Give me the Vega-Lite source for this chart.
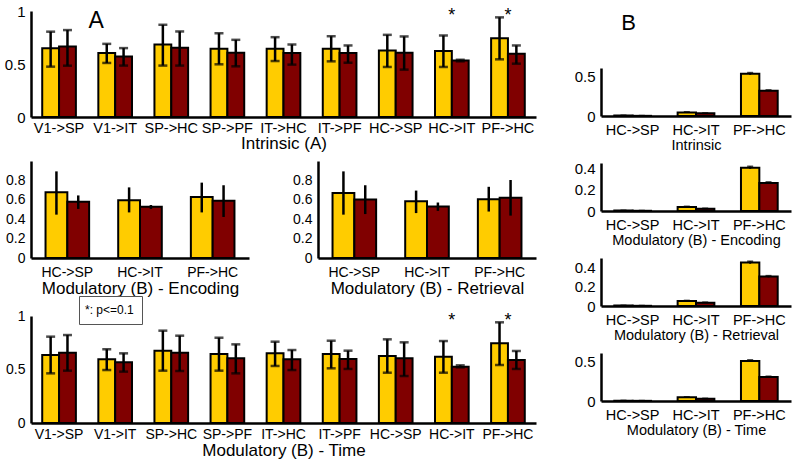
{
  "$schema": "https://vega.github.io/schema/vega-lite/v6.json",
  "background": "white",
  "padding": 4,
  "datasets": {
    "intrinsic": [
      {"c":"V1->SP","g":"1","v":0.648,"lo":0.475,"hi":0.805},{"c":"V1->SP","g":"2","v":0.664,"lo":0.484,"hi":0.82},
      {"c":"V1->IT","g":"1","v":0.603,"lo":0.51,"hi":0.69},{"c":"V1->IT","g":"2","v":0.57,"lo":0.485,"hi":0.65},
      {"c":"SP->HC","g":"1","v":0.684,"lo":0.485,"hi":0.87},{"c":"SP->HC","g":"2","v":0.653,"lo":0.485,"hi":0.807},
      {"c":"SP->PF","g":"1","v":0.644,"lo":0.497,"hi":0.79},{"c":"SP->PF","g":"2","v":0.606,"lo":0.478,"hi":0.728},
      {"c":"IT->HC","g":"1","v":0.644,"lo":0.528,"hi":0.753},{"c":"IT->HC","g":"2","v":0.603,"lo":0.494,"hi":0.684},
      {"c":"IT->PF","g":"1","v":0.644,"lo":0.525,"hi":0.762},{"c":"IT->PF","g":"2","v":0.603,"lo":0.512,"hi":0.675},
      {"c":"HC->SP","g":"1","v":0.628,"lo":0.472,"hi":0.775},{"c":"HC->SP","g":"2","v":0.606,"lo":0.447,"hi":0.76},
      {"c":"HC->IT","g":"1","v":0.622,"lo":0.472,"hi":0.769},{"c":"HC->IT","g":"2","v":0.534,"lo":0.525,"hi":0.54},
      {"c":"PF->HC","g":"1","v":0.743,"lo":0.544,"hi":0.94},{"c":"PF->HC","g":"2","v":0.597,"lo":0.503,"hi":0.675}
    ],
    "encoding": [
      {"c":"HC->SP","g":"1","v":0.678,"lo":0.447,"hi":0.893},{"c":"HC->SP","g":"2","v":0.579,"lo":0.506,"hi":0.645},
      {"c":"HC->IT","g":"1","v":0.596,"lo":0.47,"hi":0.728},{"c":"HC->IT","g":"2","v":0.529,"lo":0.506,"hi":0.546},
      {"c":"PF->HC","g":"1","v":0.628,"lo":0.47,"hi":0.777},{"c":"PF->HC","g":"2","v":0.589,"lo":0.423,"hi":0.75}
    ],
    "retrieval": [
      {"c":"HC->SP","g":"1","v":0.671,"lo":0.447,"hi":0.893},{"c":"HC->SP","g":"2","v":0.602,"lo":0.453,"hi":0.75},
      {"c":"HC->IT","g":"1","v":0.585,"lo":0.463,"hi":0.695},{"c":"HC->IT","g":"2","v":0.532,"lo":0.486,"hi":0.572},
      {"c":"PF->HC","g":"1","v":0.605,"lo":0.479,"hi":0.734},{"c":"PF->HC","g":"2","v":0.622,"lo":0.437,"hi":0.804}
    ],
    "time": [
      {"c":"V1->SP","g":"1","v":0.636,"lo":0.464,"hi":0.807},{"c":"V1->SP","g":"2","v":0.657,"lo":0.489,"hi":0.822},
      {"c":"V1->IT","g":"1","v":0.595,"lo":0.495,"hi":0.689},{"c":"V1->IT","g":"2","v":0.567,"lo":0.48,"hi":0.651},
      {"c":"SP->HC","g":"1","v":0.676,"lo":0.489,"hi":0.863},{"c":"SP->HC","g":"2","v":0.657,"lo":0.486,"hi":0.816},
      {"c":"SP->PF","g":"1","v":0.645,"lo":0.489,"hi":0.797},{"c":"SP->PF","g":"2","v":0.604,"lo":0.464,"hi":0.735},
      {"c":"IT->HC","g":"1","v":0.651,"lo":0.533,"hi":0.76},{"c":"IT->HC","g":"2","v":0.595,"lo":0.495,"hi":0.682},
      {"c":"IT->PF","g":"1","v":0.645,"lo":0.511,"hi":0.769},{"c":"IT->PF","g":"2","v":0.598,"lo":0.505,"hi":0.676},
      {"c":"HC->SP","g":"1","v":0.626,"lo":0.47,"hi":0.782},{"c":"HC->SP","g":"2","v":0.604,"lo":0.439,"hi":0.754},
      {"c":"HC->IT","g":"1","v":0.62,"lo":0.47,"hi":0.766},{"c":"HC->IT","g":"2","v":0.526,"lo":0.52,"hi":0.539},
      {"c":"PF->HC","g":"1","v":0.745,"lo":0.542,"hi":0.941},{"c":"PF->HC","g":"2","v":0.589,"lo":0.505,"hi":0.673}
    ],
    "b_intrinsic": [
      {"c":"HC->SP","g":"1","v":0.005,"lo":0.003,"hi":0.007},{"c":"HC->SP","g":"2","v":0.002,"lo":0.001,"hi":0.003},
      {"c":"HC->IT","g":"1","v":0.045,"lo":0.04,"hi":0.05},{"c":"HC->IT","g":"2","v":0.033,"lo":0.03,"hi":0.036},
      {"c":"PF->HC","g":"1","v":0.528,"lo":0.515,"hi":0.54},{"c":"PF->HC","g":"2","v":0.317,"lo":0.31,"hi":0.324}
    ],
    "b_encoding": [
      {"c":"HC->SP","g":"1","v":0.004,"lo":0.003,"hi":0.005},{"c":"HC->SP","g":"2","v":0.002,"lo":0.001,"hi":0.003},
      {"c":"HC->IT","g":"1","v":0.038,"lo":0.034,"hi":0.042},{"c":"HC->IT","g":"2","v":0.022,"lo":0.02,"hi":0.024},
      {"c":"PF->HC","g":"1","v":0.406,"lo":0.395,"hi":0.417},{"c":"PF->HC","g":"2","v":0.263,"lo":0.255,"hi":0.271}
    ],
    "b_retrieval": [
      {"c":"HC->SP","g":"1","v":0.004,"lo":0.003,"hi":0.005},{"c":"HC->SP","g":"2","v":0.002,"lo":0.001,"hi":0.003},
      {"c":"HC->IT","g":"1","v":0.052,"lo":0.048,"hi":0.056},{"c":"HC->IT","g":"2","v":0.035,"lo":0.032,"hi":0.038},
      {"c":"PF->HC","g":"1","v":0.452,"lo":0.44,"hi":0.464},{"c":"PF->HC","g":"2","v":0.306,"lo":0.298,"hi":0.314}
    ],
    "b_time": [
      {"c":"HC->SP","g":"1","v":0.004,"lo":0.003,"hi":0.005},{"c":"HC->SP","g":"2","v":0.002,"lo":0.001,"hi":0.003},
      {"c":"HC->IT","g":"1","v":0.046,"lo":0.042,"hi":0.05},{"c":"HC->IT","g":"2","v":0.028,"lo":0.025,"hi":0.031},
      {"c":"PF->HC","g":"1","v":0.5,"lo":0.488,"hi":0.512},{"c":"PF->HC","g":"2","v":0.3,"lo":0.293,"hi":0.307}
    ],
    "stars": [
      {"p":"A1","c":"HC->IT","v":0.95,"t":"*","note":"*: p<=0.1"},{"p":"A1","c":"PF->HC","v":0.95,"t":"*","note":"*: p<=0.1"},
      {"p":"A4","c":"HC->IT","v":0.95,"t":"*","note":"*: p<=0.1"},{"p":"A4","c":"PF->HC","v":0.95,"t":"*","note":"*: p<=0.1"}
    ],
    "labels": [
      {"p":"A","c":"V1->IT","v":0.91,"t":"A"},
      {"p":"B","c":"HC->SP","t":"B"}
    ]
  },
  "config": {
    "font": "Liberation Sans",
    "view": {"stroke": null},
    "axis": {"domainColor": "black", "domainWidth": 2.5, "ticks": false, "grid": false, "labelColor": "black", "titleColor": "black", "titleFontWeight": "normal", "labelFontSize": 14, "titleFontSize": 17, "labelFont": "Liberation Sans", "titleFont": "Liberation Sans", "labelOverlap": false},
    "axisX": {"labelAngle": 0, "labelPadding": 6, "titlePadding": 0},
    "axisY": {"labelPadding": 6, "format": "~g", "labelOverlap": false},
    "text": {"color": "black"}
  },
  "bounds": "flush",
  "spacing": 570,
  "resolve": {"scale": {"x": "independent", "y": "independent", "xOffset": "independent"}},
  "hconcat": [
    {
      "bounds": "flush",
      "spacing": 305,
      "resolve": {"scale": {"x": "independent", "y": "independent", "xOffset": "independent"}},
      "vconcat": [
        {
          "bounds": "flush",
          "spacing": 44,
          "resolve": {"scale": {"x": "independent", "y": "independent", "xOffset": "independent"}},
          "vconcat": [
            {
              "width": 505, "height": 106,
              "encoding": {
                "x": {"field": "c", "type": "nominal", "sort": ["V1->SP","V1->IT","SP->HC","SP->PF","IT->HC","IT->PF","HC->SP","HC->IT","PF->HC"], "scale": {"paddingInner": 0.4, "paddingOuter": 0.2}, "axis": {"title": "Intrinsic (A)", "labelFontSize": 14.5, "titleFontSize": 17, "labelPadding": 4, "titlePadding": 1}}
              },
              "layer": [
                {"data": {"name": "intrinsic"}, "mark": {"type": "bar", "stroke": "black", "strokeWidth": 2},
                 "encoding": {"xOffset": {"field": "g", "type": "nominal", "sort": ["1","2"]},
                   "y": {"field": "v", "type": "quantitative", "title": null, "scale": {"domain": [0, 1]}, "axis": {"values": [0, 0.5, 1], "labelFontSize": 15, "labelOverlap": false}},
                   "fill": {"field": "g", "type": "nominal", "scale": {"domain": ["1","2"], "range": ["#FFCC00", "#800000"]}, "legend": null}}},
                {"data": {"name": "intrinsic"}, "mark": {"type": "rule", "strokeWidth": 2.5, "color": "black"},
                 "encoding": {"xOffset": {"field": "g", "type": "nominal", "sort": ["1","2"]}, "y": {"field": "lo", "type": "quantitative", "title": null, "axis": {"values": [0, 0.5, 1], "labelFontSize": 15, "labelOverlap": false}}, "y2": {"field": "hi"}}},
                {"data": {"name": "intrinsic"}, "mark": {"type": "tick", "orient": "horizontal", "thickness": 2.5, "size": 9, "color": "black"},
                 "encoding": {"xOffset": {"field": "g", "type": "nominal", "sort": ["1","2"]}, "y": {"field": "lo", "type": "quantitative", "title": null, "axis": {"values": [0, 0.5, 1], "labelFontSize": 15, "labelOverlap": false}}}},
                {"data": {"name": "intrinsic"}, "mark": {"type": "tick", "orient": "horizontal", "thickness": 2.5, "size": 9, "color": "black"},
                 "encoding": {"xOffset": {"field": "g", "type": "nominal", "sort": ["1","2"]}, "y": {"field": "hi", "type": "quantitative", "title": null, "axis": {"values": [0, 0.5, 1], "labelFontSize": 15, "labelOverlap": false}}}},
                {"data": {"name": "stars"}, "transform": [{"filter": "datum.p == 'A1'"}], "mark": {"type": "text", "fontSize": 18},
                 "encoding": {"y": {"field": "v", "type": "quantitative", "title": null, "axis": {"values": [0, 0.5, 1], "labelFontSize": 15, "labelOverlap": false}}, "text": {"field": "t"}}},
                {"data": {"name": "labels"}, "transform": [{"filter": "datum.p == 'A'"}], "mark": {"type": "text", "fontSize": 23, "dx": -19},
                 "encoding": {"y": {"field": "v", "type": "quantitative", "title": null, "axis": {"values": [0, 0.5, 1], "labelFontSize": 15, "labelOverlap": false}}, "text": {"field": "t"}}}
              ]
            },
            {
              "bounds": "flush",
              "spacing": 69,
              "resolve": {"scale": {"x": "independent", "y": "independent", "xOffset": "independent"}},
              "hconcat": [
                {
                  "width": 218, "height": 97,
                  "data": {"name": "encoding"},
                  "encoding": {
                    "x": {"field": "c", "type": "nominal", "sort": ["HC->SP","HC->IT","PF->HC"], "scale": {"paddingInner": 0.4, "paddingOuter": 0.2}, "axis": {"title": "Modulatory (B) - Encoding", "labelPadding": 7, "titlePadding": 1}},
                    "xOffset": {"field": "g", "type": "nominal", "sort": ["1","2"]}
                  },
                  "layer": [
                    {"mark": {"type": "bar", "stroke": "black", "strokeWidth": 2},
                     "encoding": {"y": {"field": "v", "type": "quantitative", "title": null, "scale": {"domain": [0, 0.965]}, "axis": {"values": [0, 0.2, 0.4, 0.6, 0.8], "labelOverlap": false}},
                       "fill": {"field": "g", "type": "nominal", "scale": {"domain": ["1","2"], "range": ["#FFCC00", "#800000"]}, "legend": null}}},
                    {"mark": {"type": "rule", "strokeWidth": 2.5, "color": "black"},
                     "encoding": {"y": {"field": "lo", "type": "quantitative", "title": null, "axis": {"values": [0, 0.2, 0.4, 0.6, 0.8], "labelOverlap": false}}, "y2": {"field": "hi"}}}
                  ]
                },
                {
                  "width": 218, "height": 97,
                  "data": {"name": "retrieval"},
                  "encoding": {
                    "x": {"field": "c", "type": "nominal", "sort": ["HC->SP","HC->IT","PF->HC"], "scale": {"paddingInner": 0.4, "paddingOuter": 0.2}, "axis": {"title": "Modulatory (B) - Retrieval", "labelPadding": 7, "titlePadding": 1}},
                    "xOffset": {"field": "g", "type": "nominal", "sort": ["1","2"]}
                  },
                  "layer": [
                    {"mark": {"type": "bar", "stroke": "black", "strokeWidth": 2},
                     "encoding": {"y": {"field": "v", "type": "quantitative", "title": null, "scale": {"domain": [0, 0.965]}, "axis": {"values": [0, 0.2, 0.4, 0.6, 0.8], "labelOverlap": false}},
                       "fill": {"field": "g", "type": "nominal", "scale": {"domain": ["1","2"], "range": ["#FFCC00", "#800000"]}, "legend": null}}},
                    {"mark": {"type": "rule", "strokeWidth": 2.5, "color": "black"},
                     "encoding": {"y": {"field": "lo", "type": "quantitative", "title": null, "axis": {"values": [0, 0.2, 0.4, 0.6, 0.8], "labelOverlap": false}}, "y2": {"field": "hi"}}}
                  ]
                }
              ]
            }
          ]
        },
        {
          "width": 505, "height": 107,
          "encoding": {
            "x": {"field": "c", "type": "nominal", "sort": ["V1->SP","V1->IT","SP->HC","SP->PF","IT->HC","IT->PF","HC->SP","HC->IT","PF->HC"], "scale": {"paddingInner": 0.4, "paddingOuter": 0.2}, "axis": {"title": "Modulatory (B) - Time", "labelPadding": 4, "titlePadding": 1}}
          },
          "layer": [
            {"data": {"name": "time"}, "mark": {"type": "bar", "stroke": "black", "strokeWidth": 2},
             "encoding": {"xOffset": {"field": "g", "type": "nominal", "sort": ["1","2"]},
               "y": {"field": "v", "type": "quantitative", "title": null, "scale": {"domain": [0, 1]}, "axis": {"values": [0, 0.5, 1], "labelOverlap": false}},
               "fill": {"field": "g", "type": "nominal", "scale": {"domain": ["1","2"], "range": ["#FFCC00", "#800000"]}, "legend": null}}},
            {"data": {"name": "time"}, "mark": {"type": "rule", "strokeWidth": 2.5, "color": "black"},
             "encoding": {"xOffset": {"field": "g", "type": "nominal", "sort": ["1","2"]}, "y": {"field": "lo", "type": "quantitative", "title": null, "axis": {"values": [0, 0.5, 1], "labelOverlap": false}}, "y2": {"field": "hi"}}},
            {"data": {"name": "time"}, "mark": {"type": "tick", "orient": "horizontal", "thickness": 2.5, "size": 9, "color": "black"},
             "encoding": {"xOffset": {"field": "g", "type": "nominal", "sort": ["1","2"]}, "y": {"field": "lo", "type": "quantitative", "title": null, "axis": {"values": [0, 0.5, 1], "labelOverlap": false}}}},
            {"data": {"name": "time"}, "mark": {"type": "tick", "orient": "horizontal", "thickness": 2.5, "size": 9, "color": "black"},
             "encoding": {"xOffset": {"field": "g", "type": "nominal", "sort": ["1","2"]}, "y": {"field": "hi", "type": "quantitative", "title": null, "axis": {"values": [0, 0.5, 1], "labelOverlap": false}}}},
            {"data": {"name": "stars"}, "transform": [{"filter": "datum.p == 'A4'"}], "mark": {"type": "text", "fontSize": 18},
             "encoding": {"y": {"field": "v", "type": "quantitative", "title": null, "axis": {"values": [0, 0.5, 1], "labelOverlap": false}}, "text": {"field": "t"},
               "color": {"field": "note", "type": "nominal", "scale": {"range": ["black"]},
                 "legend": {"orient": "none", "legendX": 48, "legendY": 285, "title": null, "strokeColor": "#555555", "fillColor": "white", "padding": 8, "labelFontSize": 12, "symbolSize": 1, "symbolStrokeWidth": 0, "symbolOpacity": 0, "labelOffset": -14}}}}
          ]
        }
      ]
    },
    {
      "bounds": "flush",
      "spacing": 47,
      "resolve": {"scale": {"x": "independent", "y": "independent", "xOffset": "independent"}},
      "vconcat": [
        {
          "width": 190, "height": 10,
          "data": {"name": "labels"},
          "transform": [{"filter": "datum.p == 'B'"}],
          "mark": {"type": "text", "fontSize": 22, "dy": 7, "dx": -4},
          "encoding": {
            "x": {"field": "c", "type": "nominal", "scale": {"domain": ["HC->SP","HC->IT","PF->HC"], "paddingInner": 0.42, "paddingOuter": 0.21}, "axis": null},
            "text": {"field": "t"}
          }
        },
        {
          "width": 190, "height": 48,
          "data": {"name": "b_intrinsic"},
          "encoding": {
            "x": {"field": "c", "type": "nominal", "sort": ["HC->SP","HC->IT","PF->HC"], "scale": {"paddingInner": 0.42, "paddingOuter": 0.21}, "axis": {"title": "Intrinsic", "labelFontSize": 14.5, "titleFontSize": 14.5, "labelPadding": 7, "titlePadding": 2}},
            "xOffset": {"field": "g", "type": "nominal", "sort": ["1","2"]}
          },
          "layer": [
            {"mark": {"type": "bar", "stroke": "black", "strokeWidth": 2},
             "encoding": {"y": {"field": "v", "type": "quantitative", "title": null, "scale": {"domain": [0, 0.58]}, "axis": {"values": [0, 0.5], "labelFontSize": 15, "labelOverlap": false}},
               "fill": {"field": "g", "type": "nominal", "scale": {"domain": ["1","2"], "range": ["#FFCC00", "#800000"]}, "legend": null}}},
            {"mark": {"type": "rule", "strokeWidth": 2, "color": "black"},
             "encoding": {"y": {"field": "lo", "type": "quantitative", "title": null, "axis": {"values": [0, 0.5], "labelFontSize": 15, "labelOverlap": false}}, "y2": {"field": "hi"}}},
            {"mark": {"type": "tick", "orient": "horizontal", "thickness": 2, "size": 6, "color": "black"},
             "encoding": {"y": {"field": "hi", "type": "quantitative", "title": null, "axis": {"values": [0, 0.5], "labelFontSize": 15, "labelOverlap": false}}}}
          ]
        },
        {
          "width": 190, "height": 48,
          "data": {"name": "b_encoding"},
          "encoding": {
            "x": {"field": "c", "type": "nominal", "sort": ["HC->SP","HC->IT","PF->HC"], "scale": {"paddingInner": 0.42, "paddingOuter": 0.21}, "axis": {"title": "Modulatory (B) - Encoding", "labelFontSize": 14.5, "titleFontSize": 14.5, "labelPadding": 7, "titlePadding": 2}},
            "xOffset": {"field": "g", "type": "nominal", "sort": ["1","2"]}
          },
          "layer": [
            {"mark": {"type": "bar", "stroke": "black", "strokeWidth": 2},
             "encoding": {"y": {"field": "v", "type": "quantitative", "title": null, "scale": {"domain": [0, 0.45]}, "axis": {"values": [0, 0.2, 0.4], "labelFontSize": 15, "labelOverlap": false}},
               "fill": {"field": "g", "type": "nominal", "scale": {"domain": ["1","2"], "range": ["#FFCC00", "#800000"]}, "legend": null}}},
            {"mark": {"type": "rule", "strokeWidth": 2, "color": "black"},
             "encoding": {"y": {"field": "lo", "type": "quantitative", "title": null, "axis": {"values": [0, 0.2, 0.4], "labelFontSize": 15, "labelOverlap": false}}, "y2": {"field": "hi"}}},
            {"mark": {"type": "tick", "orient": "horizontal", "thickness": 2, "size": 6, "color": "black"},
             "encoding": {"y": {"field": "hi", "type": "quantitative", "title": null, "axis": {"values": [0, 0.2, 0.4], "labelFontSize": 15, "labelOverlap": false}}}}
          ]
        },
        {
          "width": 190, "height": 48,
          "data": {"name": "b_retrieval"},
          "encoding": {
            "x": {"field": "c", "type": "nominal", "sort": ["HC->SP","HC->IT","PF->HC"], "scale": {"paddingInner": 0.42, "paddingOuter": 0.21}, "axis": {"title": "Modulatory (B) - Retrieval", "labelFontSize": 14.5, "titleFontSize": 14.5, "labelPadding": 7, "titlePadding": 2}},
            "xOffset": {"field": "g", "type": "nominal", "sort": ["1","2"]}
          },
          "layer": [
            {"mark": {"type": "bar", "stroke": "black", "strokeWidth": 2},
             "encoding": {"y": {"field": "v", "type": "quantitative", "title": null, "scale": {"domain": [0, 0.5]}, "axis": {"values": [0, 0.2, 0.4], "labelFontSize": 15, "labelOverlap": false}},
               "fill": {"field": "g", "type": "nominal", "scale": {"domain": ["1","2"], "range": ["#FFCC00", "#800000"]}, "legend": null}}},
            {"mark": {"type": "rule", "strokeWidth": 2, "color": "black"},
             "encoding": {"y": {"field": "lo", "type": "quantitative", "title": null, "axis": {"values": [0, 0.2, 0.4], "labelFontSize": 15, "labelOverlap": false}}, "y2": {"field": "hi"}}},
            {"mark": {"type": "tick", "orient": "horizontal", "thickness": 2, "size": 6, "color": "black"},
             "encoding": {"y": {"field": "hi", "type": "quantitative", "title": null, "axis": {"values": [0, 0.2, 0.4], "labelFontSize": 15, "labelOverlap": false}}}}
          ]
        },
        {
          "width": 190, "height": 48,
          "data": {"name": "b_time"},
          "encoding": {
            "x": {"field": "c", "type": "nominal", "sort": ["HC->SP","HC->IT","PF->HC"], "scale": {"paddingInner": 0.42, "paddingOuter": 0.21}, "axis": {"title": "Modulatory (B) - Time", "labelFontSize": 14.5, "titleFontSize": 14.5, "labelPadding": 7, "titlePadding": 2}},
            "xOffset": {"field": "g", "type": "nominal", "sort": ["1","2"]}
          },
          "layer": [
            {"mark": {"type": "bar", "stroke": "black", "strokeWidth": 2},
             "encoding": {"y": {"field": "v", "type": "quantitative", "title": null, "scale": {"domain": [0, 0.56]}, "axis": {"values": [0, 0.5], "labelFontSize": 15, "labelOverlap": false}},
               "fill": {"field": "g", "type": "nominal", "scale": {"domain": ["1","2"], "range": ["#FFCC00", "#800000"]}, "legend": null}}},
            {"mark": {"type": "rule", "strokeWidth": 2, "color": "black"},
             "encoding": {"y": {"field": "lo", "type": "quantitative", "title": null, "axis": {"values": [0, 0.5], "labelFontSize": 15, "labelOverlap": false}}, "y2": {"field": "hi"}}},
            {"mark": {"type": "tick", "orient": "horizontal", "thickness": 2, "size": 6, "color": "black"},
             "encoding": {"y": {"field": "hi", "type": "quantitative", "title": null, "axis": {"values": [0, 0.5], "labelFontSize": 15, "labelOverlap": false}}}}
          ]
        }
      ]
    }
  ]
}
